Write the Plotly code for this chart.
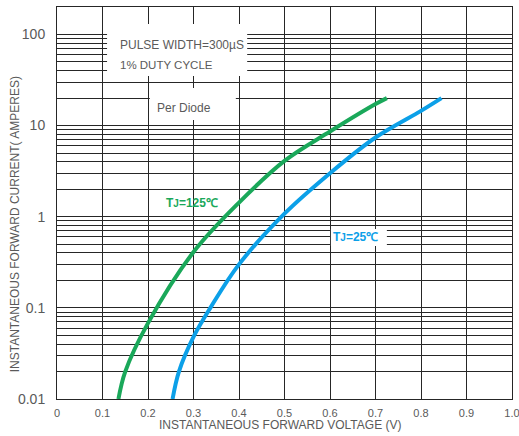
import plotly.graph_objects as go

# ---- data ----
v_125 = [0.135, 0.150, 0.200, 0.300, 0.400, 0.500, 0.600, 0.700, 0.725]
i_125 = [0.01, 0.02, 0.068, 0.41, 1.43, 4.1, 8.6, 17.2, 20]

v_25 = [0.254, 0.268, 0.300, 0.337, 0.400, 0.500, 0.600, 0.700, 0.800, 0.845]
i_25 = [0.01, 0.02, 0.048, 0.10, 0.30, 1.08, 3.0, 7.4, 14.5, 20]

x_tick_vals = [0.0, 0.1, 0.2, 0.3, 0.4, 0.5, 0.6, 0.7, 0.8, 0.9, 1.0]
x_tick_text = ["0", "0.1", "0.2", "0.3", "0.4", "0.5", "0.6", "0.7", "0.8", "0.9", "1.0"]
y_tick_vals = [0.01, 0.1, 1, 10, 100]
y_tick_text = ["0.01", "0.1", "1", "10", "100"]
y_minor_vals = [m * d for d in [0.01, 0.1, 1, 10] for m in range(2, 10)]

GREEN = "#1aa85a"
BLUE = "#0ca0e8"
GRID = "#262626"
TXT = "#5a5a5a"
FONT = "Liberation Sans, Arial, sans-serif"

fig = go.Figure()
fig.add_trace(go.Scatter(x=v_125, y=i_125, mode="lines",
                         line=dict(color=GREEN, width=4, shape="spline", smoothing=1.0),
                         showlegend=False, hoverinfo="skip"))
fig.add_trace(go.Scatter(x=v_25, y=i_25, mode="lines",
                         line=dict(color=BLUE, width=4, shape="spline", smoothing=1.0),
                         showlegend=False, hoverinfo="skip"))

# white masks that interrupt the grid behind the notes
for (x0, x1, y0, y1) in [(0.110, 0.418, 35, 130), (0.204, 0.393, 11.5, 25.8), (0.602, 0.725, 0.477, 0.733)]:
    fig.add_shape(type="rect", xref="x", yref="y", x0=x0, x1=x1, y0=y0, y1=y1,
                  fillcolor="white", line=dict(width=0), layer="between")

ann = [
    dict(text="PULSE WIDTH=300µS", x=0.134, y=0.903, xanchor="left", font=dict(size=12, color=TXT)),
    dict(text="1% DUTY CYCLE", x=0.134, y=0.852, xanchor="left", font=dict(size=11.5, color=TXT)),
    dict(text="Per Diode", x=0.279, y=0.742, xanchor="center", font=dict(size=12, color=TXT)),
    dict(text="<b>T<span style='font-size:10px'>J</span>=125℃</b>", x=0.297, y=0.50, xanchor="center",
         font=dict(size=12, color=GREEN)),
    dict(text="<b>T<span style='font-size:10px'>J</span>=25℃</b>", x=0.655, y=0.413, xanchor="center",
         font=dict(size=12, color=BLUE)),
    dict(text="INSTANTANEOUS FORWARD VOLTAGE (V)", x=0.49, y=-0.066, xanchor="center",
         font=dict(size=12, color=TXT)),
    dict(text="INSTANTANEOUS FORWARD CURRENT( AMPERES)", x=-0.092, y=0.446, xanchor="center",
         textangle=-90, font=dict(size=12, color=TXT)),
]
for a in ann:
    a.update(xref="paper", yref="paper", yanchor="middle", showarrow=False)
    a["font"]["family"] = FONT
    fig.add_annotation(**a)

fig.update_xaxes(range=[0, 1], tickvals=x_tick_vals, ticktext=x_tick_text,
                 showgrid=True, gridcolor=GRID, gridwidth=1, zeroline=False,
                 showline=True, linecolor=GRID, linewidth=1, mirror=True,
                 ticks="", ticklabelstandoff=4, automargin=False, ticklabeloverflow="allow",
                 tickfont=dict(size=11, color=TXT, family=FONT))
fig.update_yaxes(type="log", range=[-2, 2.30103], tickvals=y_tick_vals, ticktext=y_tick_text,
                 showgrid=True, gridcolor=GRID, gridwidth=1, zeroline=False,
                 showline=True, linecolor=GRID, linewidth=1, mirror=True,
                 ticks="", ticklabelstandoff=8, automargin=False,
                 tickfont=dict(size=14, color=TXT, family=FONT),
                 minor=dict(tickvals=y_minor_vals, showgrid=True, gridcolor=GRID, gridwidth=1, ticks=""))

fig.update_layout(width=519, height=436, autosize=False,
                  margin=dict(l=57, r=7, t=7, b=37),
                  plot_bgcolor="white", paper_bgcolor="white",
                  font=dict(family=FONT, color=TXT))

fig.write_html("out.html", config={"displayModeBar": False},
               post_script="document.body.style.margin='0';document.body.style.overflow='hidden';")
